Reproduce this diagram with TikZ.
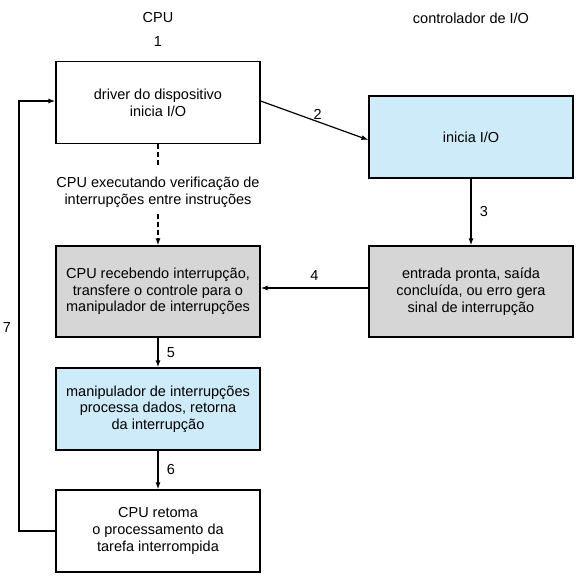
\documentclass[tikz,border=0pt]{standalone}
\usepackage{fontspec}
\setmainfont{Liberation Sans}
\usetikzlibrary{arrows.meta,positioning}
\definecolor{boxblue}{HTML}{CDEBF8}
\definecolor{boxgrey}{HTML}{D6D6D6}
\begin{document}
\begin{tikzpicture}[x=1pt,y=-1pt,
  every node/.style={font=\fontsize{14.5}{16.7}\selectfont},
  box/.style={draw,line width=1.1pt,minimum width=204pt,minimum height=82pt,align=center,inner sep=2pt},
  arr/.style={line width=1.5pt,-{Latex[length=7pt,width=5pt]}},
  lbl/.style={inner sep=0pt}]
\useasboundingbox (0,0) rectangle (584,585);
\node[lbl] (cpu) at (158,18) {CPU};
\node[lbl] (ctl) at (471,18) {controlador de I/O};
\node[lbl] (n1) at (158,42) {1};
\node[box] (b1) at (158,102.5) {driver do dispositivo\\inicia I/O};
\node[box,fill=boxblue] (b2) at (471,137) {inicia I/O};
\node[box,fill=boxgrey,minimum height=91pt] (b3) at (471,291.5) {entrada pronta, saída\\concluída, ou erro gera\\sinal de interrupção};
\node[box,fill=boxgrey,minimum height=91pt] (b4) at (158,291.5) {CPU recebendo interrupção,\\transfere o controle para o\\manipulador de interrupções};
\node[box,fill=boxblue] (b5) at (158,409) {manipulador de interrupções\\processa dados, retorna\\da interrupção};
\node[box] (b6) at (158,531) {CPU retoma\\o processamento da\\tarefa interrompida};
\node[lbl,align=center] (chk) at (158,192.5) {CPU executando verificação de\\interrupções entre instruções};
\coordinate (c1a) at (158,168);
\coordinate (c1b) at (158,214);
\draw[line width=1.5pt,dashed,dash pattern=on 5pt off 3pt] (b1.south) -- (c1a);
\draw[arr,dashed,dash pattern=on 5pt off 3pt] (c1b) -- (b4.north);
\draw[arr,line width=1.2pt] (b1.east |- 0,101) -- node[lbl,above right=-2pt and 4pt,pos=0.45] (n2) {2} (b2.west |- 0,140);
\draw[arr] (b2) -- node[lbl,right=8pt] (n3) {3} (b3);
\draw[arr] (b3.west |- 0,288) -- node[lbl,above=7pt] (n4) {4} (b4.east |- 0,288);
\draw[arr] (b4) -- node[lbl,right=8pt] (n5) {5} (b5);
\draw[arr] (b5) -- node[lbl,right=8pt] (n6) {6} (b6);
\coordinate (l1) at (19,531);
\coordinate (l2) at (19,101);
\draw[arr,line width=2pt] (b6.west) -- (l1) -- (l2) -- (b1.west |- l2);
\node[lbl] (n7) at (7,328) {7};
\end{tikzpicture}
\end{document}
